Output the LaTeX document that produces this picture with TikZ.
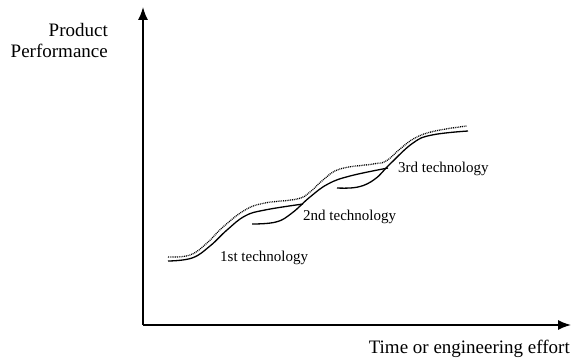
\documentclass[tikz,border=0pt]{standalone}
\usepackage{fontspec}
\setmainfont{Liberation Serif}
\usetikzlibrary{arrows.meta}
\begin{document}
\begin{tikzpicture}[x=1pt,y=-1pt,
  axis/.style={line width=1.5pt,-{Latex[length=13pt,width=10pt]}},
  techcurve/.style={line width=1.3pt},
  envelope/.style={line width=1.3pt,dash pattern=on 0.9pt off 0.9pt},
  axlabel/.style={font=\fontsize{19}{21}\selectfont,inner sep=0pt},
  techlabel/.style={font=\fontsize{15}{17}\selectfont,inner sep=0pt,anchor=base west}]
\useasboundingbox (0,0) rectangle (572,358);
\coordinate (O) at (143,325);
\coordinate (ytip) at (143,7);
\coordinate (xtip) at (571,325);
\draw[axis] (O) -- (ytip);
\draw[axis] (O) -- (xtip);
\node[axlabel,anchor=base east] (ylab1) at (108,37) {Product};
\node[axlabel,anchor=base east] (ylab2) at (108,58) {Performance};
\node[axlabel,anchor=base east] (xlab) at (570,353) {Time or engineering effort};
% technology curves
\draw[techcurve] plot[smooth,tension=0.7] coordinates
  {(168,261) (192,258) (210,246) (227,230) (245,216) (265,210) (303,204)};
\draw[techcurve] plot[smooth,tension=0.7] coordinates
  {(252,224) (276,222) (292,213) (310,197) (328,184) (350,176) (388,168)};
\draw[techcurve] plot[smooth,tension=0.7] coordinates
  {(337,188) (358,187) (375,179) (390,164) (413,143) (432,135) (468,131)};
% envelope
\draw[envelope] plot[smooth,tension=0.7] coordinates
  {(168,257) (190,255) (207,243) (223,227) (245,210) (265,203) (297,199) (310,192) (323,180) (340,169) (373,164) (386,161) (400,149) (415,138) (435,131) (467,126)};
\node[techlabel] (t1) at (220,261) {1st technology};
\node[techlabel] (t2) at (303,220) {2nd technology};
\node[techlabel] (t3) at (398,172) {3rd technology};
\end{tikzpicture}
\end{document}
